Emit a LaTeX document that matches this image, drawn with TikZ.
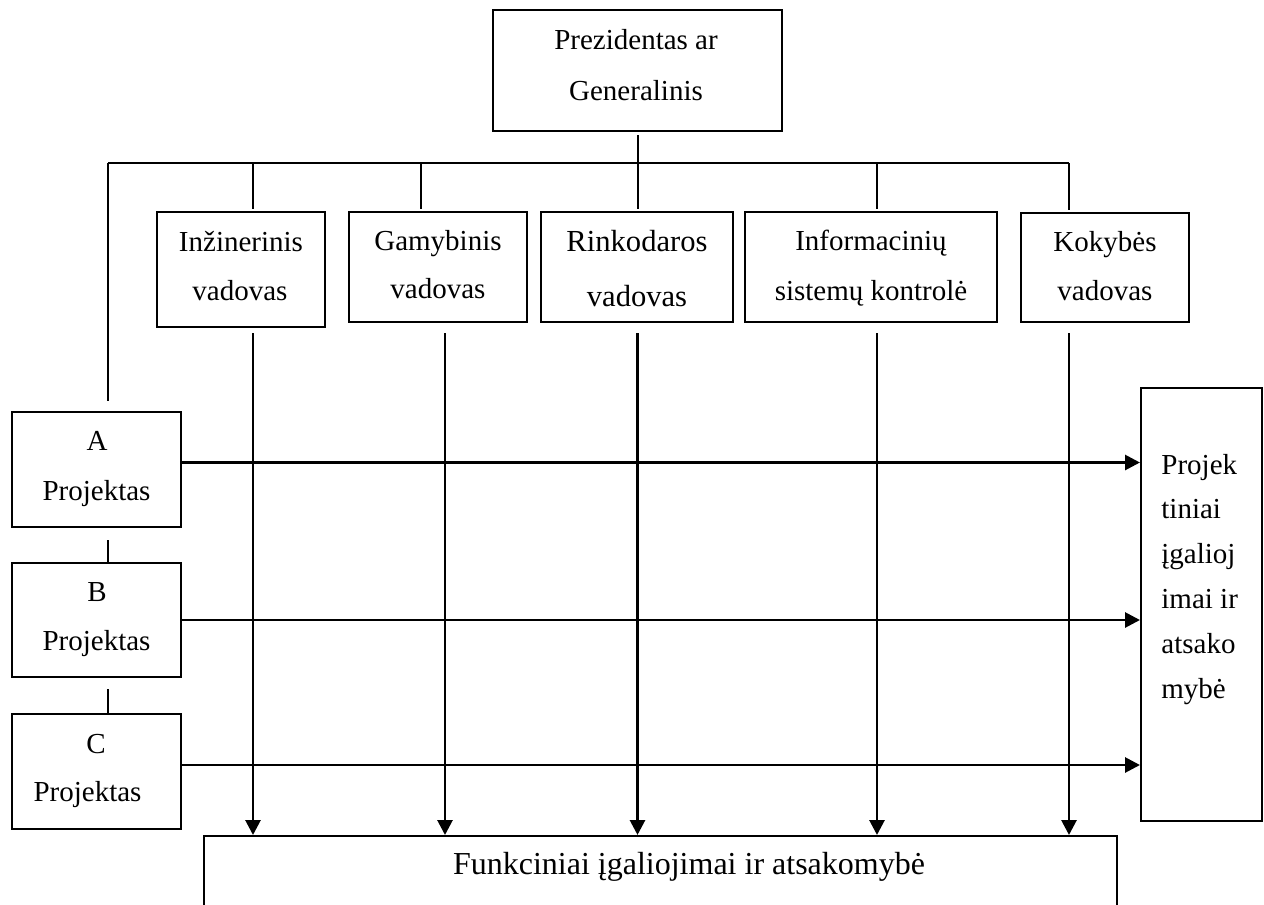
\documentclass[tikz,border=0pt]{standalone}
\usepackage{fontspec}
\setmainfont{Liberation Serif}
\usetikzlibrary{arrows.meta,fit}
\newcommand\fnorm{\fontsize{14.5}{17}\selectfont}
\newcommand\fbig{\fontsize{15.3}{18}\selectfont}
\newcommand\fbot{\fontsize{16}{19}\selectfont}
\begin{document}
\begin{tikzpicture}[x=0.5pt,y=-0.5pt,
  box/.style={draw, line width=1pt, inner sep=0pt, fit={#1}},
  txt/.style={inner sep=0pt, anchor=base, font=\fnorm},
  ltxt/.style={inner sep=0pt, anchor=base west, font=\fnorm},
  tree/.style={line width=1pt},
  arr/.style={line width=1.4pt, -{Triangle[length=7.5pt,width=7.5pt]}}]
\useasboundingbox (0,0) rectangle (1264,905);
\clip (0,0) rectangle (1264,905);
% boxes
\node[box={(493,10)(782,131)}] (top) {};
\node[box={(157,212)(325,327)}] (inz) {};
\node[box={(349,212)(527,322)}] (gam) {};
\node[box={(541,212)(733,322)}] (rink) {};
\node[box={(745,212)(997,322)}] (info) {};
\node[box={(1021,213)(1189,322)}] (kok) {};
\node[box={(12,412)(181,527)}] (pa) {};
\node[box={(12,563)(181,677)}] (pb) {};
\node[box={(12,714)(181,829)}] (pc) {};
\node[box={(1141,388)(1262,821)}] (rt) {};
\node[box={(204,836)(1117,990)}] (bot) {};
% texts
\node[txt] (t1) at (636,49) {Prezidentas ar};
\node[txt] (t2) at (636,100) {Generalinis};
\node[txt] (i1) at (241,251.5) {Inžinerinis};
\node[txt] (i2) at (240,300) {vadovas};
\node[txt] (g1) at (438,250) {Gamybinis};
\node[txt] (g2) at (438,298) {vadovas};
\node[txt,font=\fbig] (r1) at (637,251.5) {Rinkodaros};
\node[txt,font=\fbig] (r2) at (637,306) {vadovas};
\node[txt] (n1) at (871,250) {Informacinių};
\node[txt] (n2) at (871,300) {sistemų kontrolė};
\node[txt] (k1) at (1105,251.5) {Kokybės};
\node[txt] (k2) at (1105,300) {vadovas};
\node[txt] (a1) at (97,450) {A};
\node[txt] (a2) at (96.5,500) {Projektas};
\node[txt] (b1) at (97,601.5) {B};
\node[txt] (b2) at (96.5,650) {Projektas};
\node[txt] (c1) at (96,753) {C};
\node[txt] (c2) at (87.5,801.5) {Projektas};
\node[ltxt] (q1) at (1161,474) {Projek};
\node[ltxt] (q2) at (1161,518.5) {tiniai};
\node[ltxt] (q3) at (1161,563) {įgalioj};
\node[ltxt] (q4) at (1161,608) {imai ir};
\node[ltxt] (q5) at (1161,653) {atsako};
\node[ltxt] (q6) at (1161,698) {mybė};
\node[txt,font=\fbot] (f1) at (689,874) {Funkciniai įgaliojimai ir atsakomybė};
% tree coordinates
\coordinate (cL) at (108,163);
\coordinate (cInz) at (253,163);
\coordinate (cGam) at (421,163);
\coordinate (cInf) at (877,163);
\coordinate (cKok) at (1069,163);
\coordinate (dGam) at (445,163);
% tree lines
\draw[tree] (cL) -- (cKok);
\draw[tree, shorten <=1.5pt, shorten >=1pt] (top.south) -- (top.south |- rink.north);
\draw[tree, shorten >=1pt] (cInz) -- (cInz |- inz.north);
\draw[tree, shorten >=1pt] (cGam) -- (cGam |- gam.north);
\draw[tree, shorten >=1pt] (cInf) -- (cInf |- info.north);
\draw[tree, shorten >=1pt] (cKok) -- (cKok |- kok.north);
\draw[tree, shorten >=5pt] (cL) -- (cL |- pa.north);
\draw[tree, shorten <=6pt] (cL |- pa.south) -- (cL |- pb.north);
\draw[tree, shorten <=5.5pt] (cL |- pb.south) -- (cL |- pc.north);
% down arrows
\draw[arr, shorten <=2.5pt] (cInz |- inz.south) -- (cInz |- bot.north);
\draw[arr, shorten <=5pt] (dGam |- gam.south) -- (dGam |- bot.north);
\draw[arr, shorten <=5pt] (top.south |- rink.south) -- (top.south |- bot.north);
\draw[arr, shorten <=5pt] (cInf |- info.south) -- (cInf |- bot.north);
\draw[arr, shorten <=5pt] (cKok |- kok.south) -- (cKok |- bot.north);
% right arrows
\draw[arr] ([yshift=3.5pt]pa.east) -- ([yshift=3.5pt]pa.east -| rt.west);
\draw[arr] (pb.east) -- (pb.east -| rt.west);
\draw[arr] ([yshift=3.25pt]pc.east) -- ([yshift=3.25pt]pc.east -| rt.west);
\end{tikzpicture}
\end{document}
